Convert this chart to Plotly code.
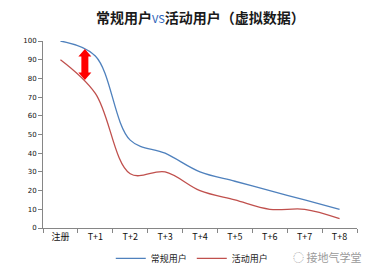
import plotly.graph_objects as go

categories = ["注册", "T+1", "T+2", "T+3", "T+4", "T+5", "T+6", "T+7", "T+8"]
regular_users = [100, 92, 47, 40, 30, 25, 20, 15, 10]
active_users = [90, 72, 29, 30, 20, 15, 10, 10, 5]
y_ticks = list(range(0, 101, 10))

BLUE = "#4F81BD"
RED = "#C0504D"
AXIS = "#868686"
FONT = "Noto Sans CJK SC, DejaVu Sans, sans-serif"

fig = go.Figure()
fig.add_trace(go.Scatter(x=categories, y=regular_users, mode="lines", name="常规用户",
                         line=dict(color=BLUE, width=1.3, shape="spline", smoothing=1.0)))
fig.add_trace(go.Scatter(x=categories, y=active_users, mode="lines", name="活动用户",
                         line=dict(color=RED, width=1.3, shape="spline", smoothing=1.0)))

# red double-headed arrow marking the gap (pixel-sized path anchored in data space)
fig.add_shape(type="path", xref="x", yref="y", xsizemode="pixel", ysizemode="pixel",
              xanchor=0.7, yanchor=87.4,
              path="M -3.5,-8 L -3.5,8 L -6.5,8 L 0,15.5 L 6.5,8 L 3.5,8 L 3.5,-8 L 6.5,-8 L 0,-15.5 L -6.5,-8 Z",
              fillcolor="#FF0000", line=dict(width=0), layer="above")

fig.add_annotation(x=0.5, y=1, xref="paper", yref="paper", xanchor="center", yanchor="bottom",
                   yshift=12, showarrow=False,
                   text="<b>常规用户</b><span style='color:#2E63B8;font-size:11px'>VS</span><b>活动用户（虚拟数据）</b>",
                   font=dict(family=FONT, size=14, color="#1a1a1a"))

fig.add_annotation(x=1.02, y=-0.155, xref="paper", yref="paper", xanchor="right", yanchor="middle",
                   showarrow=False, text="◌ 接地气学堂",
                   font=dict(family=FONT, size=11, color="#9a9a9a"))

fig.update_layout(
    width=377, height=272,
    margin=dict(l=43, r=20, t=41, b=44, autoexpand=False),
    paper_bgcolor="white", plot_bgcolor="white",
    showlegend=True,
    legend=dict(orientation="h", x=0.51, xref="container", xanchor="center",
                y=0.05, yref="container", yanchor="middle",
                font=dict(family=FONT, size=9, color="#222"),
                tracegroupgap=0, bgcolor="rgba(0,0,0,0)"),
    font=dict(family=FONT),
)
fig.update_xaxes(type="category", categoryorder="array", categoryarray=categories,
                 showline=True, linecolor=AXIS, linewidth=1, showgrid=False,
                 ticks="outside", tickson="boundaries", ticklen=4, tickcolor=AXIS,
                 tickfont=dict(family=FONT, size=9, color="#111"), range=[-0.5, 8.5])
fig.update_yaxes(range=[0, 100], tickvals=y_ticks, showline=True, linecolor=AXIS, linewidth=1,
                 showgrid=False, zeroline=False, ticks="outside", ticklen=4, tickcolor=AXIS,
                 tickfont=dict(family="DejaVu Sans, sans-serif", size=7, color="#111"))

fig.write_html("out.html")
